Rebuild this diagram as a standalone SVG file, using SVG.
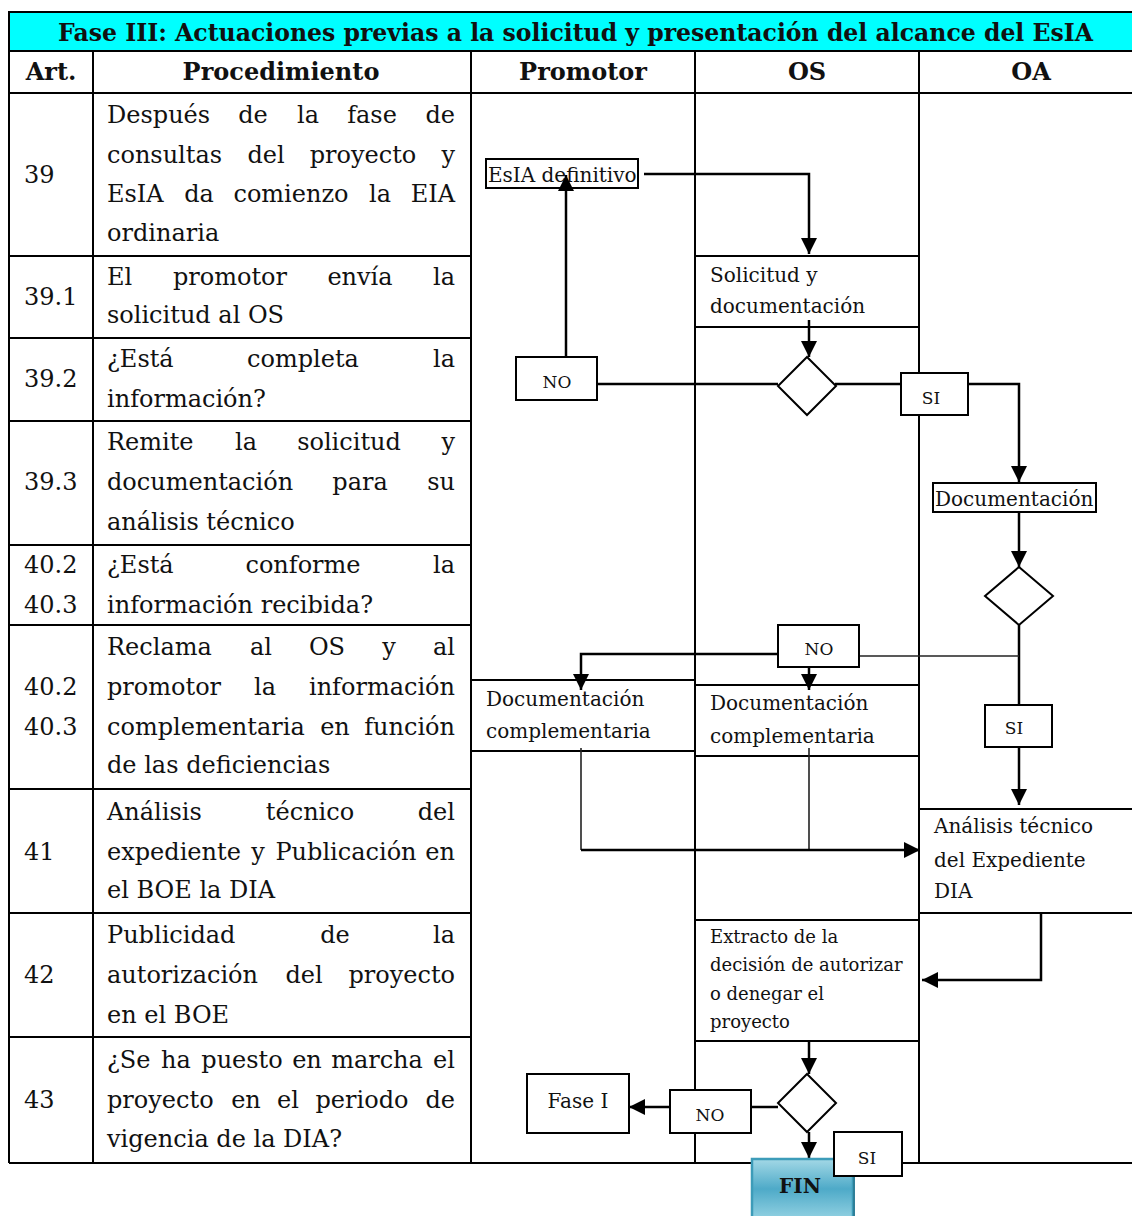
<svg xmlns="http://www.w3.org/2000/svg" width="1132" height="1216" viewBox="0 0 1132 1216">
<style>
.t{font-family:"DejaVu Serif","Liberation Serif",serif;fill:#111}
.p{font-size:24px}
.l{font-size:20px}
.s{font-size:18px}
.n{font-size:17px}
.b{font-weight:bold}
.m{text-anchor:middle}
.e{text-anchor:end}
.grid{stroke:#000;stroke-width:2;fill:none}
.box{fill:#fff;stroke:#000;stroke-width:2}
.c{stroke:#000;stroke-width:2.5;fill:none}
.ct{stroke:#222;stroke-width:1.6;fill:none}
</style>
<defs>
<marker id="ah" markerUnits="userSpaceOnUse" markerWidth="16" markerHeight="16" viewBox="0 0 16 16" refX="16" refY="8" orient="auto">
<path d="M0,0 L16,8 L0,16 Z" fill="#000"/>
</marker>
<linearGradient id="fin" x1="0" y1="0" x2="0" y2="1">
<stop offset="0" stop-color="#a3d8e6"/>
<stop offset="0.5" stop-color="#4eaac8"/>
<stop offset="1" stop-color="#92d1e2"/>
</linearGradient>
</defs>
<rect width="1132" height="1216" fill="#fff"/>

<g id="table">
<rect x="9" y="12" width="1124" height="39" fill="#00ffff" stroke="#000" stroke-width="2"/>
<text class="t b" x="58" y="41" font-size="24" textLength="1035" lengthAdjust="spacingAndGlyphs">Fase III: Actuaciones previas a la solicitud y presentación del alcance del EsIA</text>
<line class="grid" x1="9" y1="93" x2="1132" y2="93"/>
<line class="grid" x1="9" y1="51" x2="9" y2="1163"/>
<line class="grid" x1="93" y1="51" x2="93" y2="1163"/>
<line class="grid" x1="471" y1="51" x2="471" y2="1163"/>
<line class="grid" x1="695" y1="51" x2="695" y2="1163"/>
<line class="grid" x1="919" y1="51" x2="919" y2="1163"/>
<line class="grid" x1="9" y1="1163" x2="1132" y2="1163"/>
<g class="t p b m">
<text x="51" y="80">Art.</text>
<text x="281" y="80">Procedimiento</text>
<text x="583" y="80">Promotor</text>
<text x="807" y="80">OS</text>
<text x="1031" y="80">OA</text>
</g>
<g class="grid">
<line x1="9" y1="256" x2="471" y2="256"/>
<line x1="9" y1="338" x2="471" y2="338"/>
<line x1="9" y1="421" x2="471" y2="421"/>
<line x1="9" y1="545" x2="471" y2="545"/>
<line x1="9" y1="625" x2="471" y2="625"/>
<line x1="9" y1="789" x2="471" y2="789"/>
<line x1="9" y1="913" x2="471" y2="913"/>
<line x1="9" y1="1037" x2="471" y2="1037"/>
</g>
<g class="t p">
<text x="24" y="183">39</text>
<text x="24" y="305">39.1</text>
<text x="24" y="387">39.2</text>
<text x="24" y="490">39.3</text>
<text x="24" y="573">40.2</text>
<text x="24" y="613">40.3</text>
<text x="24" y="695">40.2</text>
<text x="24" y="735">40.3</text>
<text x="24" y="860">41</text>
<text x="24" y="983">42</text>
<text x="24" y="1108">43</text>
</g>
<g class="t p">
<text x="107" y="123">Después</text><text class="m" x="253" y="123">de</text><text class="m" x="308" y="123">la</text><text class="m" x="372" y="123">fase</text><text class="e" x="455" y="123">de</text>
<text x="107" y="163">consultas</text><text class="m" x="266" y="163">del</text><text class="m" x="363" y="163">proyecto</text><text class="e" x="455" y="163">y</text>
<text x="107" y="202">EsIA</text><text class="m" x="199" y="202">da</text><text class="m" x="291" y="202">comienzo</text><text class="m" x="380" y="202">la</text><text class="e" x="455" y="202">EIA</text>
<text x="107" y="241">ordinaria</text>
<text x="107" y="285">El</text><text class="m" x="230" y="285">promotor</text><text class="m" x="360" y="285">envía</text><text class="e" x="455" y="285">la</text>
<text x="107" y="323">solicitud al OS</text>
<text x="107" y="367">¿Está</text><text class="m" x="303" y="367">completa</text><text class="e" x="455" y="367">la</text>
<text x="107" y="407">información?</text>
<text x="107" y="450">Remite</text><text class="m" x="246" y="450">la</text><text class="m" x="349" y="450">solicitud</text><text class="e" x="455" y="450">y</text>
<text x="107" y="490">documentación</text><text class="m" x="360" y="490">para</text><text class="e" x="455" y="490">su</text>
<text x="107" y="530">análisis técnico</text>
<text x="107" y="573">¿Está</text><text class="m" x="303" y="573">conforme</text><text class="e" x="455" y="573">la</text>
<text x="107" y="613">información recibida?</text>
<text x="107" y="655">Reclama</text><text class="m" x="261" y="655">al</text><text class="m" x="327" y="655">OS</text><text class="m" x="389" y="655">y</text><text class="e" x="455" y="655">al</text>
<text x="107" y="695">promotor</text><text class="m" x="265" y="695">la</text><text class="e" x="455" y="695">información</text>
<text x="107" y="735">complementaria</text><text class="m" x="335" y="735">en</text><text class="e" x="455" y="735">función</text>
<text x="107" y="773">de las deficiencias</text>
<text x="107" y="820">Análisis</text><text class="m" x="310" y="820">técnico</text><text class="e" x="455" y="820">del</text>
<text x="107" y="860">expediente</text><text class="m" x="258" y="860">y</text><text class="m" x="346" y="860">Publicación</text><text class="e" x="455" y="860">en</text>
<text x="107" y="898">el BOE la DIA</text>
<text x="107" y="943">Publicidad</text><text class="m" x="335" y="943">de</text><text class="e" x="455" y="943">la</text>
<text x="107" y="983">autorización</text><text class="m" x="304" y="983">del</text><text class="e" x="455" y="983">proyecto</text>
<text x="107" y="1023">en el BOE</text>
<text x="107" y="1068">¿Se</text><text class="m" x="176" y="1068">ha</text><text class="m" x="242" y="1068">puesto</text><text class="m" x="307" y="1068">en</text><text class="m" x="377" y="1068">marcha</text><text class="e" x="455" y="1068">el</text>
<text x="107" y="1108">proyecto</text><text class="m" x="246" y="1108">en</text><text class="m" x="288" y="1108">el</text><text class="m" x="362" y="1108">periodo</text><text class="e" x="455" y="1108">de</text>
<text x="107" y="1147">vigencia de la DIA?</text>
</g>
</g>

<g id="lane-boxes" class="grid">
<line x1="695" y1="256" x2="919" y2="256"/>
<line x1="695" y1="327" x2="919" y2="327"/>
<line x1="471" y1="680" x2="695" y2="680"/>
<line x1="471" y1="751" x2="695" y2="751"/>
<line x1="695" y1="685" x2="919" y2="685"/>
<line x1="695" y1="756" x2="919" y2="756"/>
<line x1="919" y1="809" x2="1132" y2="809"/>
<line x1="919" y1="913" x2="1132" y2="913"/>
<line x1="695" y1="920" x2="919" y2="920"/>
<line x1="695" y1="1041" x2="919" y2="1041"/>
</g>

<g id="connectors">
<polyline class="c" points="644,174 809,174 809,254" marker-end="url(#ah)"/>
<line class="c" x1="809" y1="320" x2="809" y2="357" marker-end="url(#ah)"/>
<line class="c" x1="597" y1="384" x2="778" y2="384"/>
<polyline class="c" points="835,384 968,384 1019,384 1019,482" marker-end="url(#ah)"/>
<line class="c" x1="1019" y1="512" x2="1019" y2="567" marker-end="url(#ah)"/>
<line class="c" x1="1019" y1="625" x2="1019" y2="805" marker-end="url(#ah)"/>
<line class="ct" x1="859" y1="656" x2="1019" y2="656"/>
<polyline class="c" points="778,654 581,654 581,690" marker-end="url(#ah)"/>
<line class="c" x1="809" y1="667" x2="809" y2="690" marker-end="url(#ah)"/>
<line class="ct" x1="581" y1="748" x2="581" y2="850"/>
<line class="ct" x1="809" y1="748" x2="809" y2="850"/>
<line class="c" x1="581" y1="850" x2="920" y2="850" marker-end="url(#ah)"/>
<polyline class="c" points="1041,913 1041,980 922,980" marker-end="url(#ah)"/>
<line class="c" x1="809" y1="1041" x2="809" y2="1074" marker-end="url(#ah)"/>
<line class="c" x1="751" y1="1107" x2="778" y2="1107"/>
<line class="c" x1="670" y1="1107" x2="629" y2="1107" marker-end="url(#ah)"/>
<line class="c" x1="809" y1="1132" x2="809" y2="1158" marker-end="url(#ah)"/>
</g>

<g id="n-esia"><rect class="box" x="486" y="159" width="152" height="29"/><text class="t l" x="488" y="182">EsIA definitivo</text></g>
<g id="n-no1"><rect class="box" x="516" y="357" width="81" height="43"/><text class="t n m" x="557" y="388">NO</text></g>
<line class="c" x1="566" y1="357" x2="566" y2="175" marker-end="url(#ah)"/>
<g id="n-solicitud" class="t l"><text x="710" y="282">Solicitud y</text><text x="710" y="313">documentación</text></g>
<g id="n-d1"><polygon points="807,357 836,386 807,415 778,386" fill="#fff" stroke="#000" stroke-width="2"/></g>
<g id="n-si1"><rect class="box" x="901" y="373" width="67" height="42"/><text class="t n m" x="931" y="404">SI</text></g>
<g id="n-doc"><rect class="box" x="933" y="483" width="163" height="29"/><text class="t l" x="935" y="506">Documentación</text></g>
<g id="n-d2"><polygon points="1019,567 1053,596 1019,625 985,596" fill="#fff" stroke="#000" stroke-width="2"/></g>
<g id="n-no2"><rect class="box" x="778" y="625" width="81" height="42"/><text class="t n m" x="819" y="655">NO</text></g>
<g id="n-si2"><rect class="box" x="985" y="705" width="67" height="42"/><text class="t n m" x="1014" y="734">SI</text></g>
<g id="n-dcp" class="t l"><text x="486" y="706">Documentación</text><text x="486" y="738">complementaria</text></g>
<g id="n-dco" class="t l"><text x="710" y="710">Documentación</text><text x="710" y="743">complementaria</text></g>
<g id="n-analisis" class="t l"><text x="934" y="833">Análisis técnico</text><text x="934" y="867">del Expediente</text><text x="934" y="898">DIA</text></g>
<g id="n-extracto" class="t s"><text x="710" y="943">Extracto de la</text><text x="710" y="971">decisión de autorizar</text><text x="710" y="1000">o denegar el</text><text x="710" y="1028">proyecto</text></g>
<g id="n-d3"><polygon points="807,1074 836,1103 807,1132 778,1103" fill="#fff" stroke="#000" stroke-width="2"/></g>
<g id="n-fase1"><rect class="box" x="527" y="1074" width="102" height="59"/><text class="t l m" x="578" y="1108">Fase I</text></g>
<g id="n-no3"><rect class="box" x="670" y="1090" width="81" height="43"/><text class="t n m" x="710" y="1121">NO</text></g>
<g id="n-fin"><rect x="752" y="1159" width="101" height="60" fill="url(#fin)" stroke="#3d9cb9" stroke-width="2.5"/><line x1="854" y1="1160" x2="854" y2="1216" stroke="#2f7f98" stroke-width="2"/><text class="t b m" x="800" y="1193" font-size="20">FIN</text></g>
<g id="n-si3"><rect class="box" x="834" y="1132" width="68" height="44"/><text class="t n m" x="867" y="1164">SI</text></g>
</svg>
